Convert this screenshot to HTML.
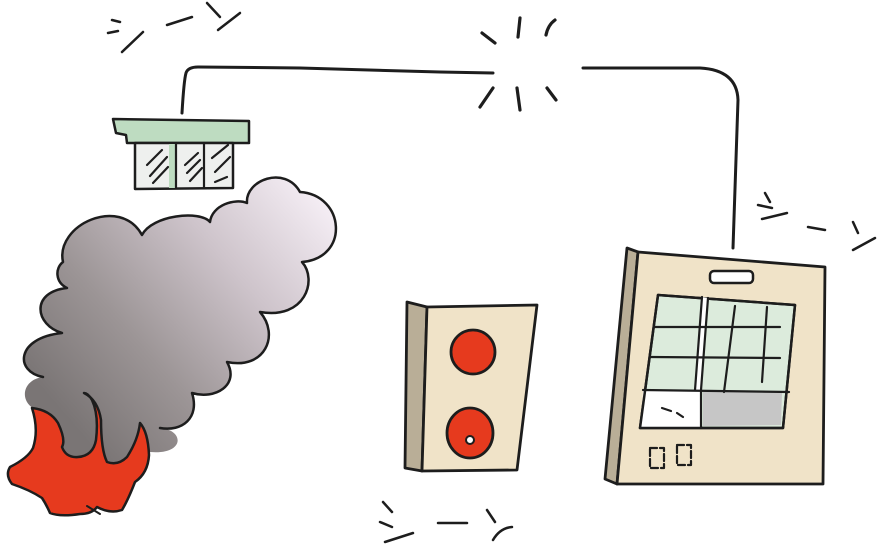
<!DOCTYPE html>
<html><head><meta charset="utf-8"><style>
html,body{margin:0;padding:0;background:#fff;}
svg{display:block;}
</style></head><body>
<svg width="877" height="547" viewBox="0 0 877 547" xmlns="http://www.w3.org/2000/svg">
<defs>
<linearGradient id="sm" gradientUnits="userSpaceOnUse" x1="320" y1="185" x2="60" y2="410">
<stop offset="0" stop-color="#f7f0f7"/>
<stop offset="0.35" stop-color="#cec4cb"/>
<stop offset="0.7" stop-color="#9c9596"/>
<stop offset="1" stop-color="#7a7575"/>
</linearGradient>
</defs>
<g fill="none" stroke="#1d1d1d" stroke-linecap="round" stroke-linejoin="round">

<!-- wires -->
<path d="M182,113 C183,96 184,80 186,73 Q188,67 198,67 L300,68 L440,72 L493,73" stroke-width="3"/>
<path d="M583,68 L700,68 Q737,70 738,100 L733,248" stroke-width="3"/>

<!-- sparks -->
<g stroke-width="3.2">
<path d="M482,33 L495,43"/><path d="M520,18 L518,37"/><path d="M555,20 Q548,25 546,35"/>
<path d="M493,88 L480,107"/><path d="M517,88 L520,110"/><path d="M547,88 L556,100"/>
</g>
<!-- シーン marks -->
<g stroke-width="2.5">
<path d="M112,20 L120,22"/><path d="M108,33 L118,31"/><path d="M122,52 L143,32"/>
<path d="M167,25 L192,17"/><path d="M207,3 L220,17"/><path d="M218,30 L240,13"/>
<path d="M765,193 L770,202"/><path d="M758,205 L772,208"/><path d="M762,219 L787,213"/>
<path d="M808,227 L825,230"/><path d="M853,222 L858,233"/><path d="M853,250 L875,238"/>
<path d="M383,502 L392,512"/><path d="M380,522 L392,527"/><path d="M385,542 L413,533"/>
<path d="M438,523 L467,523"/><path d="M487,510 L495,522"/><path d="M493,540 Q500,528 512,527"/>
</g>

<!-- detector -->
<path d="M113,119 L249,121 L249,143 L127,143 L126,135 L116,133 Z" fill="#bedcc1" stroke-width="2.5"/>
<path d="M135,143 L233,143 L233,188 L135,189 Z" fill="#eef0ee" stroke-width="2.5"/>
<rect x="169" y="144" width="6" height="44" fill="#bddcc0" stroke="none"/>
<g stroke-width="2.2">
<path d="M176,143 L176,188"/><path d="M204,143 L204,188"/>
<path d="M147,165 L162,150"/><path d="M150,176 L167,157"/><path d="M153,183 L168,167"/>
<path d="M185,165 L198,153"/><path d="M187,173 L200,160"/><path d="M190,181 L202,168"/>
<path d="M212,158 L228,145"/><path d="M215,172 L230,157"/><path d="M215,182 L227,177"/>
</g>

<!-- smoke fill -->
<path d="M63,262 C55,225 120,195 142,235 C152,215 200,210 210,222 C212,205 235,198 247,203 C245,180 285,165 300,192 C345,195 350,258 302,262 C318,280 305,320 260,312 C280,335 265,370 227,362 C240,385 215,400 192,393 C200,418 182,432 160,428 C185,430 185,455 150,452 L140,470 L40,470 L33,408 C20,400 22,380 43,377 C15,372 15,338 62,333 C35,325 30,292 67,288 C55,282 55,268 63,262 Z" fill="url(#sm)" stroke="none"/>
<!-- smoke outline -->
<path d="M43,377 C15,372 15,338 62,333 C35,325 30,292 67,288 C55,282 55,268 63,262 C55,225 120,195 142,235 C152,215 200,210 210,222 C212,205 235,198 247,203 C245,180 285,165 300,192 C345,195 350,258 302,262 C318,280 305,320 260,312 C280,335 265,370 227,362 C240,385 215,400 192,393 C200,418 182,432 160,428" stroke-width="2.5"/>

<!-- fire -->
<path d="M32,408 Q50,410 58,423 Q66,440 62,447 Q66,458 78,457 Q93,456 96,440 Q99,415 92,400 Q88,393 84,393 Q98,400 101,420 Q101,450 107,462 Q118,466 127,457 Q138,440 140,423 Q148,432 149,455 Q148,473 135,482 Q128,500 122,510 Q110,514 97,507 Q92,514 80,514 Q60,517 50,513 Q46,504 42,498 Q30,490 12,484 Q5,475 10,467 Q28,458 33,448 Q39,430 32,408 Z" fill="#e63a1e" stroke-width="2.5"/>
<path d="M87,506 L100,514" stroke-width="2"/>

<!-- pull station -->
<path d="M407,302 L427,307 L422,471 L405,468 Z" fill="#b9ae97" stroke-width="2.8"/>
<path d="M427,307 L537,305 L517,470 L422,471 Z" fill="#f0e3c8" stroke-width="2.8"/>
<ellipse cx="473" cy="352" rx="22" ry="22" fill="#e63a1e" stroke-width="2.8"/>
<ellipse cx="470" cy="433" rx="23" ry="25" fill="#e63a1e" stroke-width="2.8"/>
<circle cx="470" cy="440" r="4" fill="#fff" stroke-width="2"/>

<!-- control panel -->
<path d="M627,248 L638,252 L617,484 L605,479 Z" fill="#b9ae97" stroke-width="2.8"/>
<path d="M638,252 L825,267 L823,484 L617,484 Z" fill="#f0e3c8" stroke-width="2.8"/>
<rect x="710" y="271" width="43" height="12" rx="4" fill="#fff" stroke-width="2.5"/>
<path d="M658,295 L795,305 L783,428 L640,428 Z" fill="#dcebdc" stroke-width="2.5"/>
<path d="M643,391 L700,391 L700,427 L641,427 Z" fill="#fff" stroke="none"/>
<path d="M703,392 L782,392 L781,425 L703,426 Z" fill="#c6c6c6" stroke="none"/>
<path d="M658,295 L795,305 L783,428 L640,428 Z" stroke-width="2.5"/>
<path d="M702,297 L708,298 L701,390 L695,390 Z" fill="#fff" stroke="none"/>
<g stroke-width="2.2">
<path d="M702,297 L695,390"/><path d="M708,298 L701,390 L701,428"/>
<path d="M735,306 L724,392"/><path d="M767,307 L762,382"/>
<path d="M655,327 L780,327"/><path d="M650,357 L780,358"/>
<path d="M643,390 L789,392"/>
<path d="M662,408 L671,411"/><path d="M677,413 L683,417"/>
<rect x="650" y="448" width="14" height="20" stroke-dasharray="7 3"/>
<rect x="677" y="445" width="14" height="20" stroke-dasharray="7 3"/>
</g>
</g>
</svg>
</body></html>
